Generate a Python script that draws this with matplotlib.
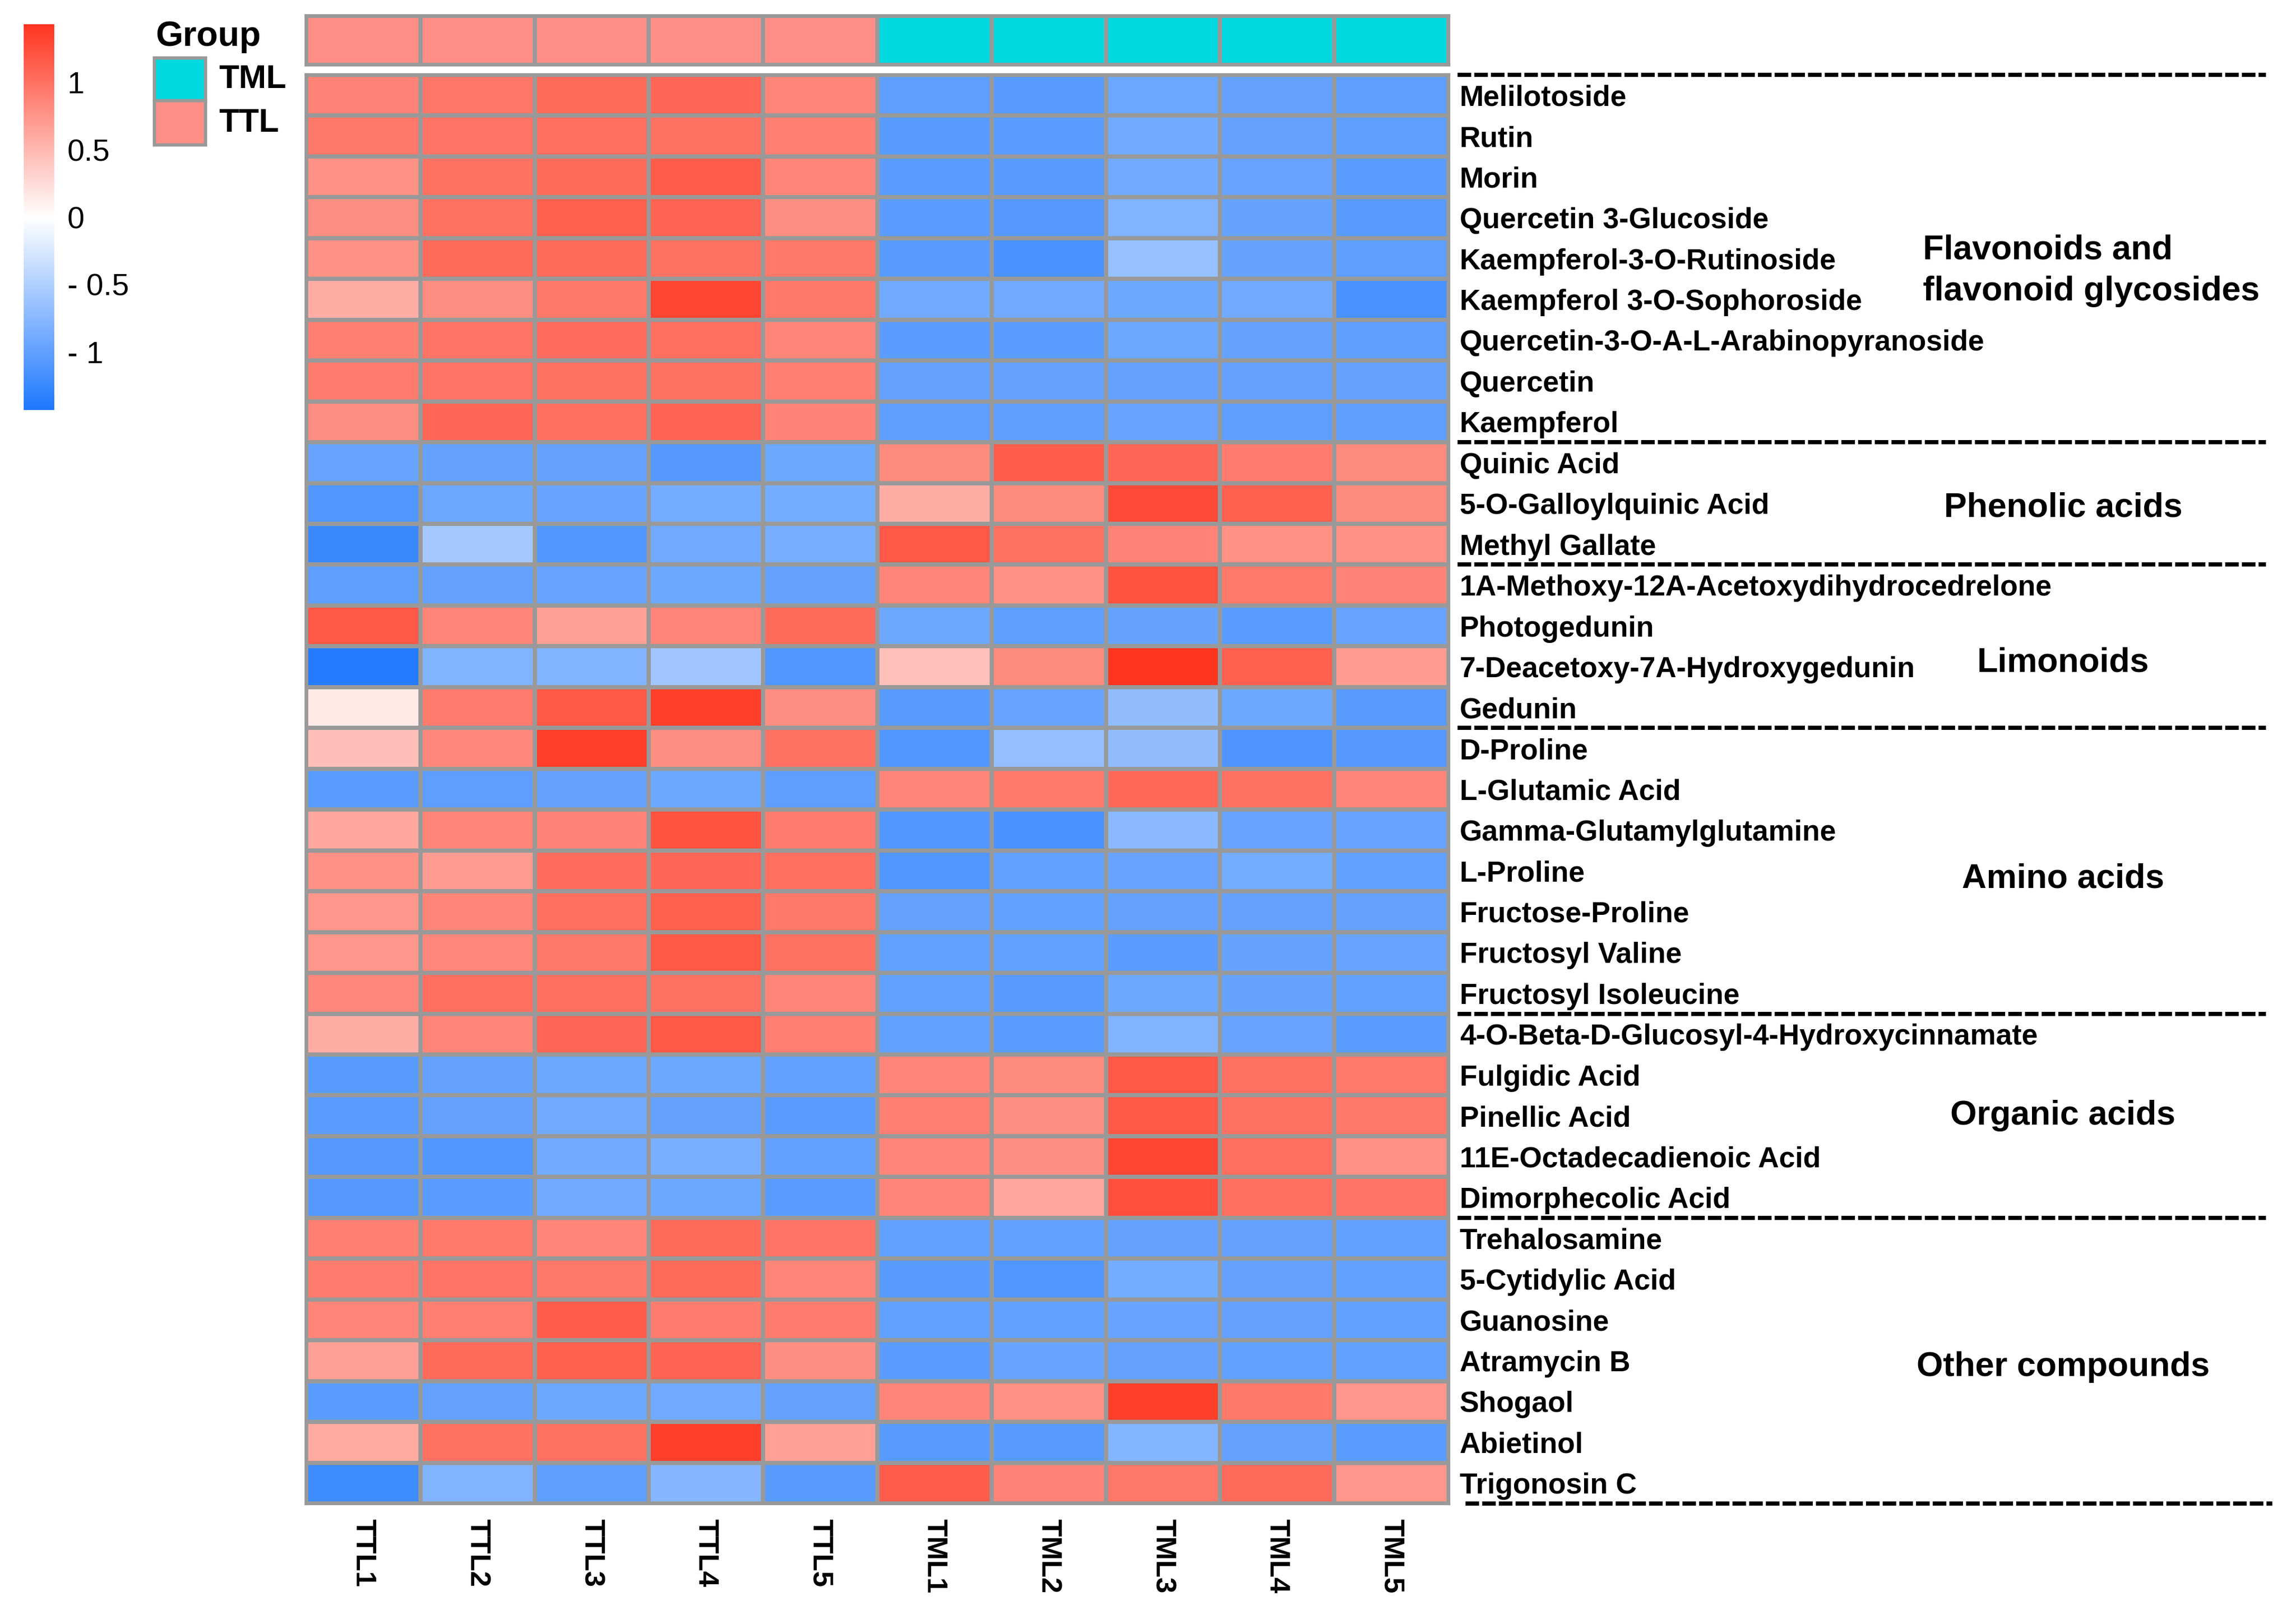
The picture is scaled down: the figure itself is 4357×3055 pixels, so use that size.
import numpy as np
import matplotlib
matplotlib.use("Agg")
import matplotlib.pyplot as plt
from matplotlib.colors import LinearSegmentedColormap, ListedColormap, Normalize
from matplotlib.patches import Rectangle
from matplotlib.transforms import blended_transform_factory
from matplotlib.cm import ScalarMappable

plt.rcParams['font.family'] = ['Liberation Sans', 'DejaVu Sans']

# ---------------- data ----------------
samples = ["TTL1", "TTL2", "TTL3", "TTL4", "TTL5", "TML1", "TML2", "TML3", "TML4", "TML5"]
sample_group = ["TTL", "TTL", "TTL", "TTL", "TTL", "TML", "TML", "TML", "TML", "TML"]

flavonoid_names = ["Melilotoside", "Rutin", "Morin", "Quercetin 3-Glucoside",
                   "Kaempferol-3-O-Rutinoside", "Kaempferol 3-O-Sophoroside",
                   "Quercetin-3-O-A-L-Arabinopyranoside", "Quercetin", "Kaempferol"]
flavonoid_values = [
    [0.88, 0.97, 1.04, 1.08, 0.86, -1.02, -1.06, -0.93, -0.98, -1.02],
    [0.95, 0.98, 1.02, 1.00, 0.90, -1.06, -1.04, -0.90, -0.98, -1.02],
    [0.78, 1.00, 1.04, 1.14, 0.86, -1.04, -1.06, -0.90, -0.95, -1.04],
    [0.80, 1.00, 1.12, 1.10, 0.80, -1.04, -1.08, -0.80, -0.97, -1.06],
    [0.78, 1.05, 1.05, 1.00, 0.95, -1.06, -1.14, -0.66, -0.97, -1.02],
    [0.58, 0.80, 0.95, 1.30, 0.95, -0.90, -0.90, -0.92, -0.90, -1.14],
    [0.90, 0.98, 1.03, 1.02, 0.86, -1.04, -1.04, -0.92, -0.97, -1.02],
    [0.92, 0.98, 1.00, 1.00, 0.90, -0.98, -0.98, -0.98, -0.98, -0.98],
    [0.80, 1.08, 1.02, 1.10, 0.88, -1.02, -1.02, -0.95, -1.02, -1.02],
]

phenolic_names = ["Quinic Acid", "5-O-Galloylquinic Acid", "Methyl Gallate"]
phenolic_values = [
    [-0.95, -0.97, -0.97, -1.08, -0.92, 0.82, 1.15, 1.08, 0.92, 0.82],
    [-1.10, -0.92, -0.95, -0.88, -0.88, 0.58, 0.82, 1.28, 1.12, 0.82],
    [-1.25, -0.58, -1.10, -0.90, -0.85, 1.18, 1.00, 0.88, 0.78, 0.78],
]

limonoid_names = ["1A-Methoxy-12A-Acetoxydihydrocedrelone", "Photogedunin",
                  "7-Deacetoxy-7A-Hydroxygedunin", "Gedunin"]
limonoid_values = [
    [-1.02, -0.98, -0.95, -0.92, -0.98, 0.86, 0.78, 1.22, 0.94, 0.88],
    [1.18, 0.86, 0.68, 0.86, 1.05, -0.92, -1.02, -0.97, -1.04, -0.95],
    [-1.38, -0.80, -0.80, -0.60, -1.10, 0.44, 0.82, 1.42, 1.12, 0.70],
    [0.15, 0.92, 1.18, 1.36, 0.80, -1.06, -0.95, -0.70, -0.92, -1.06],
]

amino_names = ["D-Proline", "L-Glutamic Acid", "Gamma-Glutamylglutamine", "L-Proline",
               "Fructose-Proline", "Fructosyl Valine", "Fructosyl Isoleucine"]
amino_values = [
    [0.45, 0.84, 1.36, 0.80, 1.00, -1.10, -0.68, -0.70, -1.12, -1.08],
    [-1.04, -1.02, -0.98, -0.92, -1.02, 0.86, 0.94, 1.06, 1.00, 0.86],
    [0.62, 0.86, 0.88, 1.22, 0.92, -1.10, -1.14, -0.74, -0.95, -0.95],
    [0.78, 0.70, 1.03, 1.08, 1.02, -1.10, -1.00, -0.95, -0.88, -1.00],
    [0.74, 0.86, 1.02, 1.12, 0.95, -0.98, -1.00, -0.98, -0.98, -0.98],
    [0.74, 0.84, 0.95, 1.18, 1.00, -1.00, -1.00, -1.05, -0.97, -0.95],
    [0.84, 1.02, 1.02, 1.00, 0.86, -1.00, -1.06, -0.92, -0.97, -1.00],
]

organic_names = ["4-O-Beta-D-Glucosyl-4-Hydroxycinnamate", "Fulgidic Acid", "Pinellic Acid",
                 "11E-Octadecadienoic Acid", "Dimorphecolic Acid"]
organic_values = [
    [0.58, 0.86, 1.08, 1.18, 0.90, -1.00, -1.04, -0.80, -0.95, -1.04],
    [-1.06, -0.98, -0.92, -0.92, -1.00, 0.86, 0.82, 1.18, 1.00, 0.94],
    [-1.04, -0.98, -0.90, -0.98, -1.04, 0.90, 0.80, 1.18, 1.00, 0.96],
    [-1.08, -1.10, -0.90, -0.84, -1.00, 0.86, 0.80, 1.30, 1.02, 0.78],
    [-1.08, -1.04, -0.90, -0.92, -1.04, 0.86, 0.62, 1.25, 1.02, 0.98],
]

other_names = ["Trehalosamine", "5-Cytidylic Acid", "Guanosine", "Atramycin B",
               "Shogaol", "Abietinol", "Trigonosin C"]
other_values = [
    [0.90, 0.94, 0.86, 1.05, 0.98, -1.00, -1.00, -0.98, -0.98, -1.00],
    [0.92, 0.98, 0.95, 1.05, 0.86, -1.06, -1.10, -0.88, -0.98, -1.00],
    [0.86, 0.90, 1.15, 0.92, 0.92, -1.00, -1.00, -0.96, -0.98, -1.00],
    [0.68, 1.05, 1.12, 1.10, 0.80, -1.04, -0.96, -0.98, -1.00, -1.00],
    [-1.04, -0.98, -0.92, -0.90, -0.98, 0.86, 0.78, 1.36, 0.96, 0.74],
    [0.60, 1.00, 1.00, 1.36, 0.68, -1.06, -1.06, -0.78, -0.98, -1.04],
    [-1.22, -0.80, -1.02, -0.76, -1.06, 1.15, 0.88, 0.95, 1.05, 0.74],
]

class_labels = ["Flavonoids and\nflavonoid glycosides", "Phenolic acids", "Limonoids",
                "Amino acids", "Organic acids", "Other compounds"]
separator_rows = [0, 9, 12, 16, 23, 28, 35]

group_levels = ["TML", "TTL"]
group_colors = ["#00D8E0", "#FF8F87"]
cbar_ticks = [-1, -0.5, 0, 0.5, 1]
cbar_ticklabels = ["- 1", "- 0.5", "0", "0.5", "1"]

compounds = (flavonoid_names + phenolic_names + limonoid_names + amino_names
             + organic_names + other_names)
data = np.array(flavonoid_values + phenolic_values + limonoid_values + amino_values
                + organic_values + other_values)

# ---------------- figure ----------------
W, H = 4357, 3055
DPI = 300
fig = plt.figure(figsize=(W / DPI, H / DPI), dpi=DPI)
fig.patch.set_facecolor("white")


def box(x0, y0, x1, y1):
    return [x0 / W, 1 - y1 / H, (x1 - x0) / W, (y1 - y0) / H]


cmap = LinearSegmentedColormap.from_list("bwr_ph", ["#1E78FF", "#FFFFFF", "#FF3520"], N=256)
norm = Normalize(vmin=-1.43, vmax=1.43)
grid_col = "#999999"
grid_lw = 1.5

nrow, ncol = data.shape

# heatmap
ax = fig.add_axes(box(581, 142, 2749, 2853))
ax.pcolormesh(np.arange(ncol + 1), np.arange(nrow + 1), data, cmap=cmap, norm=norm,
              edgecolors=grid_col, linewidth=grid_lw)
ax.set_xlim(0, ncol)
ax.set_ylim(nrow, 0)
for s in ax.spines.values():
    s.set_color(grid_col)
    s.set_linewidth(grid_lw)
ax.yaxis.tick_right()
ax.set_yticks(np.arange(nrow) + 0.5)
ax.set_yticklabels(compounds, fontsize=13.2, fontweight="bold")
ax.tick_params(axis="y", length=0, pad=5)
ax.set_xticks(np.arange(ncol) + 0.5)
ax.set_xticklabels(samples, fontsize=13, fontweight="bold", rotation=270,
                   ha="center", va="top")
ax.tick_params(axis="x", length=0, pad=7)

# annotation bar
aax = fig.add_axes(box(581, 30, 2749, 123))
codes = np.array([[group_levels.index(g) for g in sample_group]])
aax.pcolormesh(np.arange(ncol + 1), [0, 1], codes, cmap=ListedColormap(group_colors),
               vmin=-0.5, vmax=1.5, edgecolors=grid_col, linewidth=grid_lw)
aax.set_xlim(0, ncol)
aax.set_ylim(0, 1)
aax.set_xticks([])
aax.set_yticks([])
for s in aax.spines.values():
    s.set_color(grid_col)
    s.set_linewidth(grid_lw)

# colorbar
cax = fig.add_axes(box(45, 46, 103, 778))
cb = fig.colorbar(ScalarMappable(norm=norm, cmap=cmap), cax=cax)
cb.outline.set_visible(False)
cb.set_ticks(cbar_ticks)
cb.set_ticklabels(cbar_ticklabels)
cax.tick_params(length=0, pad=6, labelsize=14)

# group legend
fig.text(295 / W, 1 - 87 / H, "Group", fontsize=16, fontweight="bold", va="baseline", ha="left")
legend_boxes = [(110, 191), (191, 275)]
for (y0, y1), col, lab in zip(legend_boxes, group_colors, group_levels):
    fig.add_artist(Rectangle((293 / W, 1 - y1 / H), 97 / W, (y1 - y0) / H,
                             transform=fig.transFigure, facecolor=col,
                             edgecolor=grid_col, linewidth=grid_lw))
    fig.text(415 / W, 1 - (y0 + y1) / 2 / H, lab, fontsize=15, fontweight="bold",
             va="center", ha="left")

# dashed separators and class labels
tr = blended_transform_factory(fig.transFigure, ax.transData)
for i, b in enumerate(separator_rows):
    last = i == len(separator_rows) - 1
    x0 = 2781 if last else 2766
    x1 = 4312 if last else 4300
    ax.plot([x0 / W, x1 / W], [b, b], transform=tr, clip_on=False, color="black",
            lw=1.9, dashes=(3.25, 0.75), dash_capstyle="butt")

label_rows = [4.8, 10.6, 14.4, 19.7, 25.5, 31.65]
for i, (lab, yr) in enumerate(zip(class_labels, label_rows)):
    if i == 0:
        ax.text(3649 / W, yr, lab, transform=tr, fontsize=15.5, fontweight="bold",
                ha="left", va="center", linespacing=1.4)
    else:
        ax.text(3915 / W, yr, lab, transform=tr, fontsize=15.5, fontweight="bold",
                ha="center", va="center")

fig.savefig("out.png", dpi=DPI, facecolor="white")
